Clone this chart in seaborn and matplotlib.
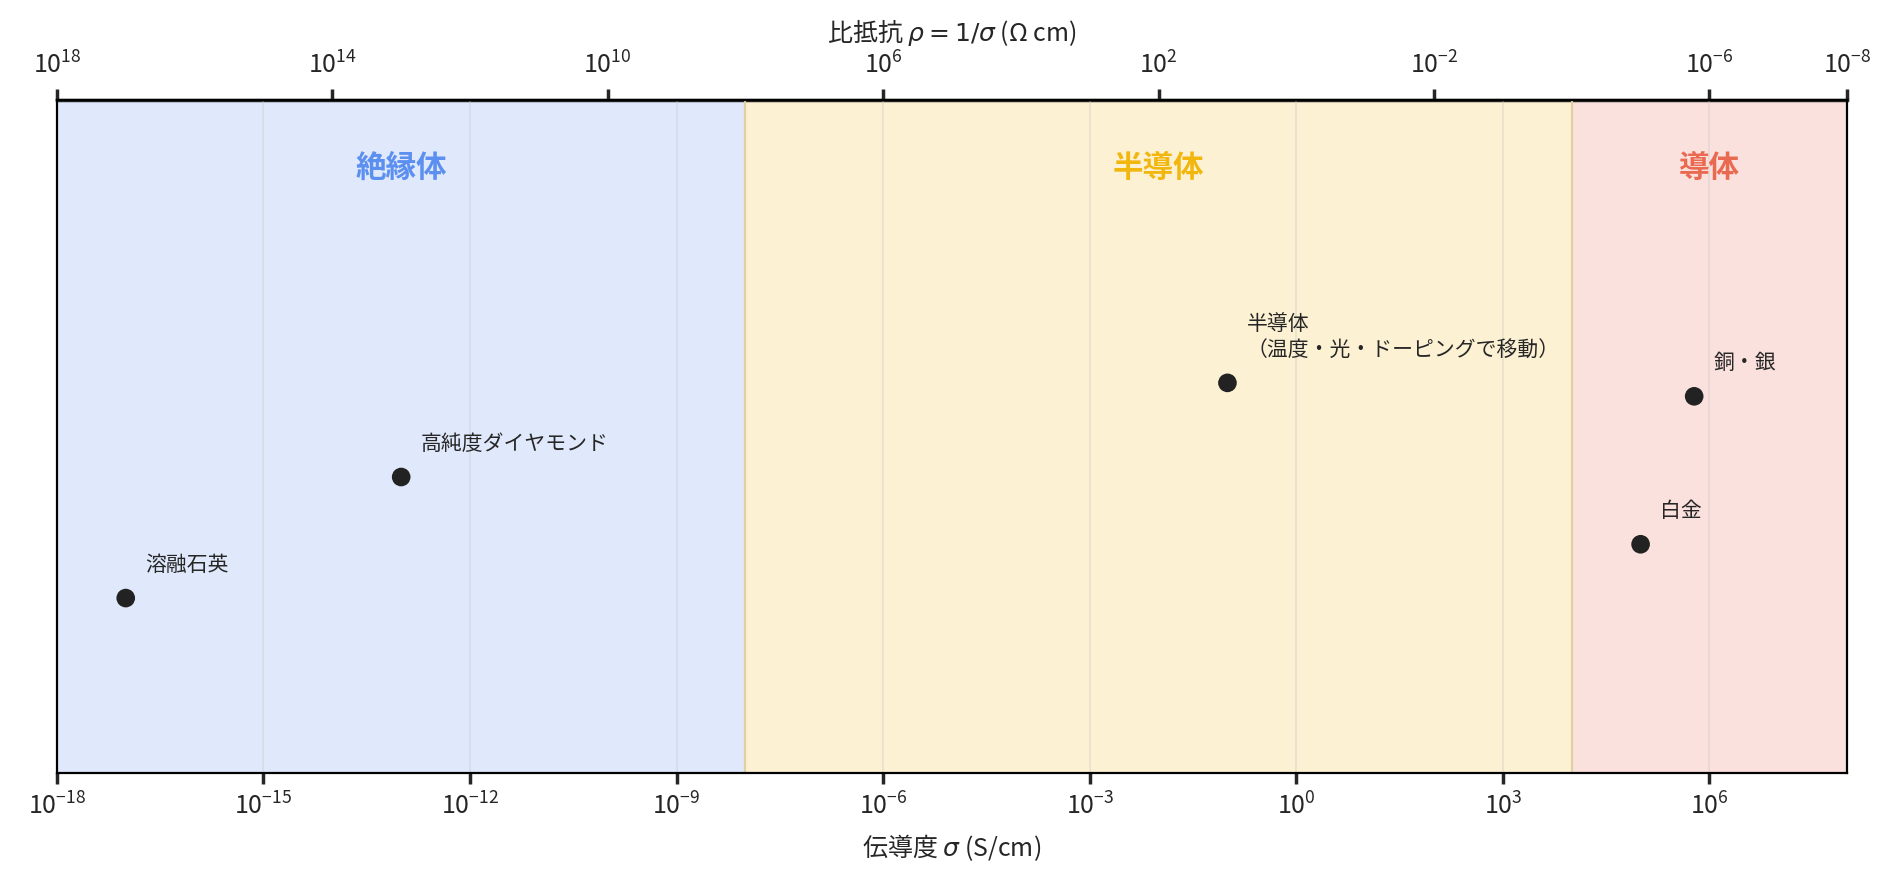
import numpy as np
import matplotlib
matplotlib.use("Agg")
import matplotlib.pyplot as plt
import seaborn as sns

# --- data ---
materials = ["溶融石英", "高純度ダイヤモンド", "半導体\n（温度・光・ドーピングで移動）", "白金", "銅・銀"]
sigma = [1e-17, 1e-13, 1e-1, 1e5, 6e5]
ypos = [0.26, 0.44, 0.58, 0.34, 0.56]

region_names = ["絶縁体", "半導体", "導体"]
region_edges = [(1e-18, 1e-8), (1e-8, 1e4), (1e4, 1e8)]
region_label_x = [1e-13, 1e-2, 1e6]
region_fill = ["#e0e8fb", "#fdf1d4", "#fbe1dd"]
region_text = ["#5b8ff0", "#f2b70f", "#e96a50"]

top_ticks = [1e18, 1e14, 1e10, 1e6, 1e2, 1e-2, 1e-6, 1e-8]

sns.set_theme(style="white")
plt.rcParams["font.family"] = ["Noto Sans CJK JP", "DejaVu Sans"]
plt.rcParams["mathtext.fontset"] = "dejavusans"

fig, ax = plt.subplots(figsize=(9.49, 4.415), dpi=200)
ax.set_xscale("log")
ax.set_xlim(1e-18, 1e8)
ax.set_ylim(0, 1)

for (lo, hi), fc, tc, name, lx in zip(region_edges, region_fill, region_text, region_names, region_label_x):
    ax.axvspan(lo, hi, color=fc, zorder=0)
    ax.text(lx, 0.9, name, color=tc, fontsize=11, fontweight="bold", ha="center", va="center")
for b in [1e-8, 1e4]:
    ax.axvline(b, color="#e0cfa0", lw=0.8, zorder=0.5)

xt = [10.0 ** e for e in range(-18, 7, 3)]
ax.set_xticks(xt)
ax.minorticks_off()
for t in xt[1:]:
    ax.axvline(t, color="#c8c8c8", lw=0.6, alpha=0.4, zorder=0.6)
ax.set_yticks([])
ax.tick_params(axis="x", bottom=True, length=4, labelsize=9)

sns.scatterplot(x=sigma, y=ypos, ax=ax, color="#222222", s=45, zorder=3, edgecolor="none")
for m, sx, sy in zip(materials, sigma, ypos):
    ax.annotate(m, (sx, sy), xytext=(7, 8), textcoords="offset points", fontsize=7.5, va="bottom")

ax.set_xlabel("伝導度 $\\sigma$ (S/cm)", fontsize=9)

top = ax.secondary_xaxis("top", functions=(lambda x: 1 / x, lambda x: 1 / x))
top.set_xticks(top_ticks)
top.minorticks_off()
top.tick_params(labelsize=9, length=4)
top.set_xlabel("比抵抗 $\\rho = 1/\\sigma$ (Ω cm)", fontsize=9)

for s in ax.spines.values():
    s.set_color("black")
    s.set_linewidth(0.8)

W, H = 1568, 730
fig.subplots_adjust(left=47 / W, right=1526 / W, top=1 - 83 / H, bottom=1 - 639 / H)
fig.savefig("out.png", dpi=200)
